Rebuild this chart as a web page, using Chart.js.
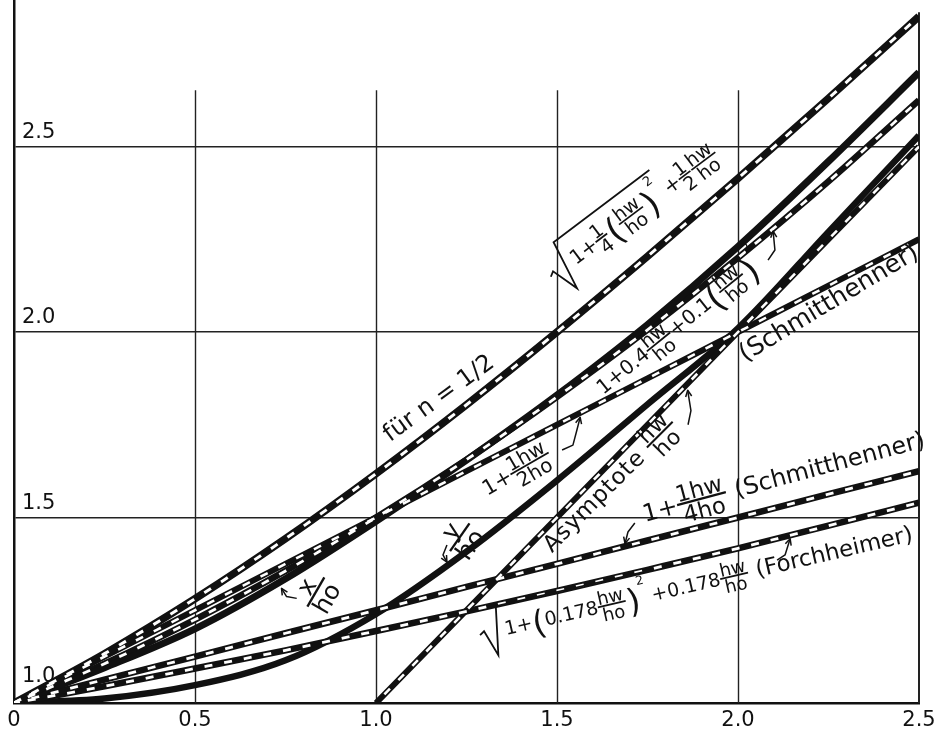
<!DOCTYPE html>
<html><head><meta charset="utf-8">
<script src="https://cdn.jsdelivr.net/npm/chart.js@4.4.0/dist/chart.umd.min.js"></script>
<style>html,body{margin:0;padding:0;background:#fff;} canvas{display:block;}</style>
</head><body>
<canvas id="c" width="936" height="737"></canvas>
<script>
// ---- data ----
const hwValues     = [0, 0.25, 0.5, 0.75, 1.0, 1.25, 1.5, 1.75, 2.0, 2.25, 2.5];
const curveN12     = [1.000, 1.133, 1.281, 1.443, 1.618, 1.804, 2.000, 2.204, 2.414, 2.630, 2.851];
const curveXho     = [1.000, 1.095, 1.200, 1.335, 1.490, 1.655, 1.830, 2.020, 2.230, 2.460, 2.700];
const curveQuad    = [1.000, 1.106, 1.225, 1.356, 1.500, 1.656, 1.825, 2.006, 2.200, 2.406, 2.625];
const curveHalf    = [1.000, 1.125, 1.250, 1.375, 1.500, 1.625, 1.750, 1.875, 2.000, 2.125, 2.250];
const curveQuarter = [1.000, 1.063, 1.125, 1.188, 1.250, 1.313, 1.375, 1.438, 1.500, 1.563, 1.625];
const curveForch   = [1.000, 1.045, 1.093, 1.142, 1.194, 1.247, 1.302, 1.359, 1.417, 1.478, 1.540];
const curveYho     = [1.000, 1.012, 1.048, 1.115, 1.240, 1.408, 1.600, 1.805, 2.010, 2.270, 2.530];
const asymX        = [1.0, 2.5];
const asymY        = [1.0, 2.5];
const xTicks       = [0, 0.5, 1.0, 1.5, 2.0, 2.5];
const xTickLabels  = ['0', '0.5', '1.0', '1.5', '2.0', '2.5'];
const yTicks       = [1.0, 1.5, 2.0, 2.5];
const yTickLabels  = ['1.0', '1.5', '2.0', '2.5'];
const vGridValues  = [0.5, 1.0, 1.5, 2.0];

const FONT = '"DejaVu Sans", "Liberation Sans", sans-serif';
const INK = '#111';

function pts(xs, ys) { return xs.map((x, i) => ({ x: x, y: ys[i] })); }
function solid(data, w) {
  return { data, borderColor: INK, borderWidth: w, pointRadius: 0, cubicInterpolationMode: 'monotone',
           order: 2, borderCapStyle: 'butt', borderJoinStyle: 'round' };
}
function dashes(data, w, off) {
  return { data, borderColor: '#fff', borderWidth: w, borderDash: [8, 12], borderDashOffset: off || 0,
           pointRadius: 0, cubicInterpolationMode: 'monotone', order: 1, borderCapStyle: 'butt' };
}

const dN12 = pts(hwValues, curveN12), dX = pts(hwValues, curveXho), dQ = pts(hwValues, curveQuad),
      dH = pts(hwValues, curveHalf), dQu = pts(hwValues, curveQuarter), dF = pts(hwValues, curveForch),
      dY = pts(hwValues, curveYho), dA = pts(asymX, asymY);

const datasets = [
  solid(dN12, 7.5), dashes(dN12, 3, 0),
  solid(dX, 7),
  solid(dQ, 6.5), dashes(dQ, 2.8, 5),
  solid(dH, 6), dashes(dH, 2.6, 3),
  solid(dA, 6), dashes(dA, 2.6, 8),
  solid(dQu, 6.5), dashes(dQu, 2.8, 2),
  solid(dF, 6.5), dashes(dF, 2.8, 6),
  solid(dY, 6.5)
];

// ---- small math-text renderer for the curve captions ----
function setFont(ctx, px) { ctx.font = px.toFixed(1) + 'px ' + FONT; }
function renderTokens(ctx, toks, x, s, draw) {
  for (const t of toks) {
    if (typeof t === 'string' || t.t) {
      const str = typeof t === 'string' ? t : t.t;
      setFont(ctx, typeof t === 'string' ? s : s * t.z);
      if (draw) ctx.fillText(str, x, 0);
      x += ctx.measureText(str).width;
    } else if (t.f) {
      const fs = s * (t.k || 0.95);
      setFont(ctx, fs);
      const wn = ctx.measureText(t.f[0]).width, wd = ctx.measureText(t.f[1]).width;
      const w = Math.max(wn, wd) + s * 0.12;
      const bar = -s * 0.33;
      if (draw) {
        ctx.fillText(t.f[0], x + (w - wn) / 2, bar - s * 0.1);
        ctx.fillText(t.f[1], x + (w - wd) / 2, bar + s * 0.1 + fs * 0.74);
        ctx.fillRect(x, bar - s * 0.045, w, s * 0.09);
      }
      x += w + s * 0.06;
    } else if (t.p) {
      const ps = s * 1.75;
      setFont(ctx, ps);
      if (draw) ctx.fillText(t.p, x, s * 0.36);
      x += ctx.measureText(t.p).width;
    } else if (t.sup) {
      setFont(ctx, s * 0.65);
      if (draw) ctx.fillText(t.sup, x, -s * 1.0);
      x += ctx.measureText(t.sup).width + s * 0.1;
    } else if (t.sqrt) {
      const x0 = x;
      const inner = renderTokens(ctx, t.sqrt, 0, s, false);
      const cx = x0 + s * 1.35;
      const top = -s * 1.6;
      if (draw) {
        ctx.beginPath();
        ctx.moveTo(x0, -s * 0.3);
        ctx.lineTo(x0 + s * 0.25, -s * 0.45);
        ctx.lineTo(x0 + s * 0.7, s * 0.95);
        ctx.lineTo(x0 + s * 1.15, top);
        ctx.lineTo(cx + inner + s * 0.1, top);
        ctx.stroke();
        renderTokens(ctx, t.sqrt, cx, s, true);
      }
      x = cx + inner + s * 0.15;
    }
  }
  return x;
}

const captions = [
  { x: 1.039, y: 1.703, angle: -36, size: 24, tokens: ['für n = 1/2'] },
  { x: 1.493, y: 2.136, angle: -37, size: 20, tokens: [{ sqrt: ['1+', { f: ['1', '4'] }, { p: '(' }, { f: ['hw', 'ho'] }, { p: ')' }, { sup: '2' }] }, '+', { f: ['1', '2'] }, { f: ['hw', 'ho'] }] },
  { x: 1.628, y: 1.830, angle: -39, size: 20, tokens: ['1+0.4', { f: ['hw', 'ho'] }, '+0.1', { p: '(' }, { f: ['hw', 'ho'] }, { p: ')' }, { sup: '2' }] },
  { x: 1.307, y: 1.558, angle: -30, size: 21, tokens: ['1+', { f: ['1hw', '2ho'] }] },
  { x: 1.224, y: 1.396, angle: -55, size: 26, tokens: [{ f: ['y', 'ho'] }] },
  { x: 0.831, y: 1.248, angle: -60, size: 26, tokens: [{ f: ['x', 'ho'] }] },
  { x: 1.486, y: 1.404, angle: -45, size: 23, ls: 1, tokens: ['Asymptote ', { f: ['hw', 'ho'] }] },
  { x: 2.019, y: 1.919, angle: -31, size: 25, tokens: ['(Schmitthenner)'] },
  { x: 1.743, y: 1.488, angle: -15, size: 24, tokens: ['1+', { f: ['1hw', '4ho'] }, ' (Schmitthenner)'] },
  { x: 1.291, y: 1.168, angle: -13, size: 19, tokens: [{ sqrt: ['1+', { p: '(' }, '0.178', { f: ['hw', 'ho'] }, { p: ')' }, { sup: '2' }] }, '+0.178', { f: ['hw', 'ho'] }, { t: ' (Forchheimer)', z: 1.2 }] }
];

const pointers = [
  [[0.781, 1.282], [0.753, 1.287], [0.739, 1.309]],
  [[1.196, 1.426], [1.185, 1.399], [1.196, 1.380]],
  [[1.514, 1.682], [1.544, 1.695], [1.555, 1.736], [1.564, 1.770]],
  [[2.083, 2.194], [2.102, 2.221], [2.097, 2.272]],
  [[1.862, 1.750], [1.870, 1.788], [1.861, 1.843]],
  [[1.715, 1.485], [1.696, 1.461], [1.688, 1.430]],
  [[2.108, 1.385], [2.130, 1.399], [2.144, 1.443]]
];

const decor = {
  id: 'decor',
  beforeDatasetsDraw(chart) {
    const { ctx, scales: { x, y } } = chart;
    ctx.save();
    ctx.strokeStyle = '#222';
    ctx.lineWidth = 1.4;
    const yb = y.getPixelForValue(1.0);
    for (const v of vGridValues) {
      const px = Math.round(x.getPixelForValue(v)) + 0.5;
      ctx.beginPath();
      ctx.moveTo(px, y.getPixelForValue(2.652));
      ctx.lineTo(px, yb);
      ctx.stroke();
    }
    ctx.lineWidth = 2;
    const rx = x.getPixelForValue(2.5);
    ctx.beginPath();
    ctx.moveTo(rx, y.getPixelForValue(2.862));
    ctx.lineTo(rx, yb);
    ctx.stroke();
    ctx.restore();
  },
  afterDatasetsDraw(chart) {
    const { ctx, scales: { x, y } } = chart;
    ctx.save();
    ctx.fillStyle = INK;
    ctx.strokeStyle = INK;
    ctx.textAlign = 'left';
    ctx.textBaseline = 'alphabetic';
    for (const L of captions) {
      ctx.save();
      ctx.translate(x.getPixelForValue(L.x), y.getPixelForValue(L.y));
      ctx.rotate(L.angle * Math.PI / 180);
      ctx.lineWidth = 1.8;
      ctx.letterSpacing = (L.ls || 0) + 'px';
      renderTokens(ctx, L.tokens, 0, L.size, true);
      ctx.restore();
    }
    ctx.lineWidth = 1.5;
    ctx.lineJoin = 'round';
    for (const A of pointers) {
      const p = A.map(q => [x.getPixelForValue(q[0]), y.getPixelForValue(q[1])]);
      ctx.beginPath();
      ctx.moveTo(p[0][0], p[0][1]);
      for (let i = 1; i < p.length; i++) ctx.lineTo(p[i][0], p[i][1]);
      ctx.stroke();
      const [x1, y1] = p[p.length - 2], [x2, y2] = p[p.length - 1];
      const ang = Math.atan2(y2 - y1, x2 - x1), hl = 7;
      ctx.beginPath();
      ctx.moveTo(x2 - hl * Math.cos(ang - 0.45), y2 - hl * Math.sin(ang - 0.45));
      ctx.lineTo(x2, y2);
      ctx.lineTo(x2 - hl * Math.cos(ang + 0.45), y2 - hl * Math.sin(ang + 0.45));
      ctx.stroke();
    }
    ctx.restore();
  }
};

new Chart(document.getElementById('c'), {
  type: 'line',
  data: { datasets },
  options: {
    responsive: false,
    animation: false,
    devicePixelRatio: 1,
    layout: { padding: { left: 0, right: 17, top: 0, bottom: 0 } },
    plugins: { legend: { display: false }, tooltip: { enabled: false } },
    scales: {
      x: {
        type: 'linear', min: 0, max: 2.5,
        afterBuildTicks: s => { s.ticks = xTicks.map(v => ({ value: v })); },
        afterFit: s => { s.height = 34; s.paddingLeft = 0; s.paddingRight = 0; },
        grid: { display: false, drawTicks: false },
        border: { display: true, color: INK, width: 2.5 },
        ticks: { color: INK, font: { family: FONT, size: 21 }, padding: 5, maxRotation: 0, autoSkip: false,
                 callback: v => xTickLabels[xTicks.indexOf(v)] }
      },
      y: {
        type: 'linear', min: 1.0, max: 2.895,
        afterBuildTicks: s => { s.ticks = yTicks.map(v => ({ value: v })); },
        afterFit: s => { s.width = 14; s.paddingTop = 0; s.paddingBottom = 0; },
        grid: { color: '#222', lineWidth: 1.4, drawTicks: false },
        border: { display: true, color: INK, width: 2.5 },
        ticks: { mirror: true, padding: 8, labelOffset: -14, color: INK, font: { family: FONT, size: 21 },
                 callback: v => { const l = yTickLabels[yTicks.indexOf(v)]; return v === 1.0 ? [l, ''] : l; } }
      }
    }
  },
  plugins: [decor]
});
</script>
</body></html>
